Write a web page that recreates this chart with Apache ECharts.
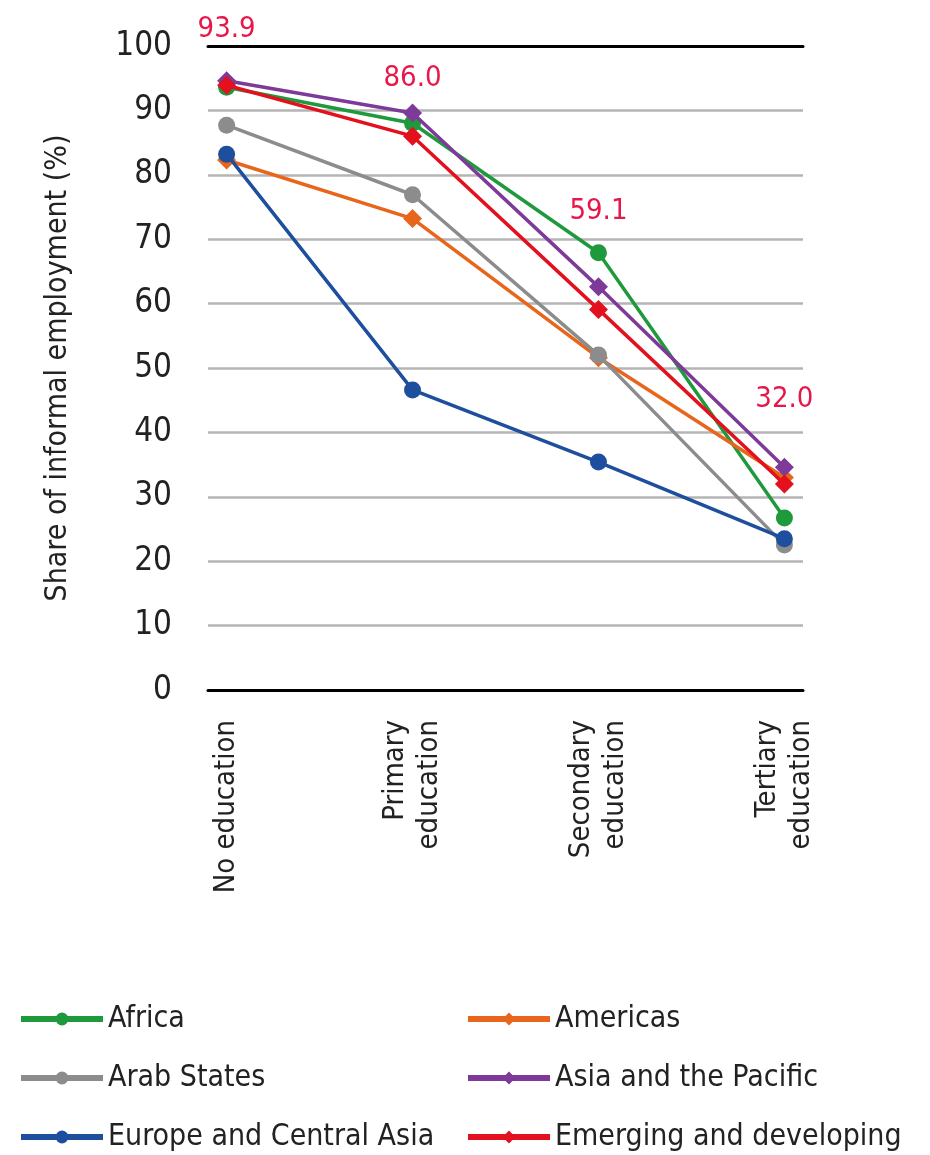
<!DOCTYPE html>
<html>
<head>
<meta charset="utf-8">
<script src="https://cdn.jsdelivr.net/npm/echarts@6/dist/echarts.min.js"></script>
<style>
html,body{margin:0;padding:0;background:#fff;}
#chart{width:930px;height:1155px;}
</style>
</head>
<body>
<div id="chart"></div>
<script>
// ---- data ----
const categories = ['No education', 'Primary\neducation', 'Secondary\neducation', 'Tertiary\neducation'];
const yTicks = [0, 10, 20, 30, 40, 50, 60, 70, 80, 90, 100];
const seriesNames = ['Africa', 'Americas', 'Arab States', 'Asia and the Pacific', 'Europe and Central Asia', 'Emerging and developing'];
const africa   = [93.6, 88.0, 67.9, 26.7];
const americas = [82.3, 73.2, 51.6, 33.0];
const arab     = [87.7, 76.9, 52.0, 22.5];
const asiaPac  = [94.6, 89.6, 62.6, 34.6];
const europe   = [83.2, 46.6, 35.4, 23.5];
const emerging = [93.9, 86.0, 59.1, 32.0];

// ---- styling ----
const FONT = "'Liberation Sans Narrow', 'DejaVu Sans Condensed', 'Roboto Condensed', 'Liberation Sans', sans-serif";
const colors = ['#1e9a3c', '#e8661c', '#8c8c8c', '#7d3a98', '#1d4f9e', '#e3101e'];
const symbols = ['circle', 'diamond', 'circle', 'diamond', 'circle', 'diamond'];
const values = [africa, americas, arab, asiaPac, europe, emerging];
const labelGaps = [32, 34, 74, 60];

const chart = echarts.init(document.getElementById('chart'), null, {renderer: 'canvas'});

const series = values.map((vals, si) => ({
  name: seriesNames[si],
  type: 'line',
  data: vals.map((v, i) => {
    const item = {value: [i, v]};
    if (si === 5) {
      item.label = {show: true, position: 'top', distance: labelGaps[i]};
    }
    return item;
  }),
  symbol: symbols[si],
  symbolSize: symbols[si] === 'diamond' ? 19 : 17,
  color: colors[si],
  lineStyle: {width: 3.5, color: colors[si]},
  itemStyle: {color: colors[si]},
  label: {
    show: false,
    color: '#e8174a',
    fontFamily: FONT,
    fontSize: 29,
    formatter: p => p.value[1].toFixed(1)
  },
  emphasis: {disabled: true},
  z: 2 + si
}));

const legendCommon = {
  orient: 'vertical',
  top: 1001,
  height: 180,
  padding: 0,
  itemWidth: 82,
  itemHeight: 16,
  itemGap: 23,
  textStyle: {color: '#222', fontFamily: FONT, fontSize: 30, lineHeight: 36},
  lineStyle: {width: 6}
};

const option = {
  animation: false,
  backgroundColor: '#fff',
  grid: {left: 208, right: 127, top: 46, bottom: 1155 - 690, containLabel: false},
  xAxis: [{
    type: 'value',
    min: -0.1,
    max: 3.1,
    position: 'bottom',
    axisLine: {show: true, onZero: false, lineStyle: {color: '#000', width: 3}},
    axisTick: {show: false},
    splitLine: {show: false},
    axisLabel: {
      customValues: [0, 1, 2, 3],
      formatter: v => categories[Math.round(v)],
      rotate: 90,
      margin: 30,
      color: '#222',
      fontFamily: FONT,
      fontSize: 29,
      lineHeight: 34
    }
  }, {
    type: 'value',
    min: -0.1,
    max: 3.1,
    position: 'top',
    axisLine: {show: true, onZero: false, lineStyle: {color: '#000', width: 3}},
    axisTick: {show: false},
    splitLine: {show: false},
    axisLabel: {show: false}
  }],
  yAxis: {
    type: 'value',
    min: 0,
    max: 100,
    interval: 10,
    name: 'Share of informal employment (%)',
    nameLocation: 'middle',
    nameGap: 135,
    nameRotate: 90,
    nameTextStyle: {color: '#222', fontFamily: FONT, fontSize: 30},
    axisLine: {show: false},
    axisTick: {show: false},
    splitLine: {show: true, lineStyle: {color: '#b4b4b4', width: 2.5}},
    axisLabel: {
      margin: 36,
      color: '#222',
      fontFamily: FONT,
      fontSize: 33,
      formatter: v => String(v)
    }
  },
  legend: [
    Object.assign({}, legendCommon, {left: 18, data: [seriesNames[0], seriesNames[2], seriesNames[4]]}),
    Object.assign({}, legendCommon, {left: 465, data: [seriesNames[1], seriesNames[3], seriesNames[5]]})
  ],
  series: series
};

chart.setOption(option);
</script>
</body>
</html>
